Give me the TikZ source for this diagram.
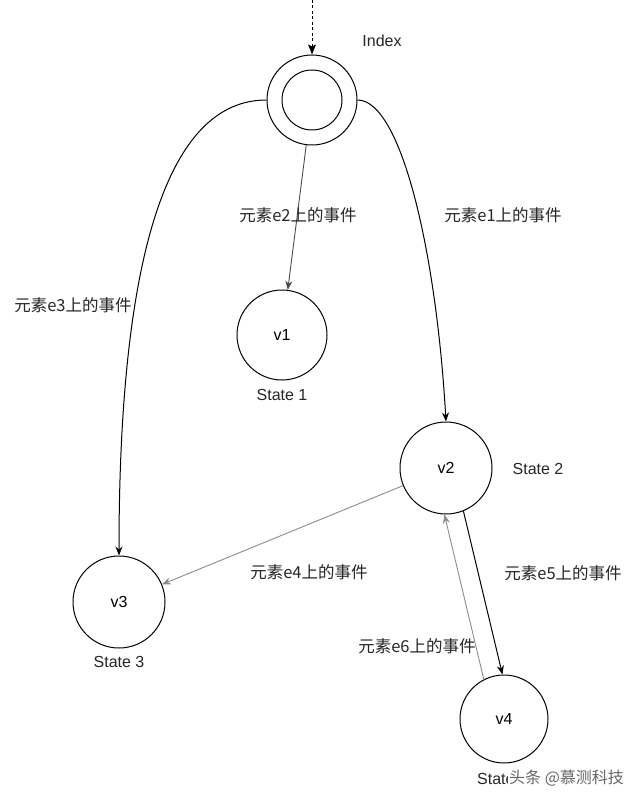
\documentclass[tikz,border=0pt]{standalone}
\usepackage{fontspec}
\setmainfont{Liberation Sans}
\newfontfamily\cjk{Noto Sans CJK SC}
\usetikzlibrary{arrows.meta}
\begin{document}
\begin{tikzpicture}[x=1pt,y=-1pt,
  st/.style={draw=black,line width=1pt,circle,minimum size=90pt,inner sep=0pt,font=\fontsize{16}{19}\selectfont},
  lbl/.style={font=\fontsize{16}{19}\selectfont,text=black!85,inner sep=0pt},
  ev/.style={font=\cjk\fontsize{16.5}{19}\selectfont,text=black!85,inner sep=0pt},
  tip/.style={-{Stealth[length=9pt,width=7pt]}},
  dk/.style={tip,draw=black,line width=1pt},
  md/.style={tip,draw=black!70,line width=0.9pt},
  lt/.style={tip,draw=black!45,line width=0.9pt}]
\useasboundingbox[fill=white] (0,0) rectangle (640,799);
% states
\node[st,minimum size=90pt] (idx) at (312,100) {};
\node[draw=black,line width=1pt,circle,minimum size=60pt,inner sep=0pt] (idxin) at (312,100) {};
\node[st] (v1) at (282,335) {v1};
\node[st,minimum size=92pt] (v2) at (446,468) {v2};
\node[st,minimum size=92pt] (v3) at (119,602) {v3};
\node[st,minimum size=88pt] (v4) at (504,719) {v4};
\coordinate (start) at (312,0);
% state labels
\node[lbl] (lidx) at (382,41) {Index};
\node[lbl] (l1) at (282,395) {State 1};
\node[lbl] (l2) at (538,469) {State 2};
\node[lbl] (l3) at (119,662) {State 3};
\node[lbl,anchor=west] (l4) at (477,779) {State 4};
% edges
\draw[black,line width=1pt,dash pattern=on 3pt off 2.5pt] (start) -- ([yshift=8pt]idx.north);
\fill[black] (idx.north) -- ++(-4,-10) -- ++(4,2) -- ++(4,-2) -- cycle;
\draw[md] (idx) -- (v1);
\draw[dk] (idx.east) .. controls +(43,0) and +(-10,-173) .. (v2.north);
\draw[dk] (idx.west) .. controls +(-97,0) and +(0,-306) .. (v3.north);
\draw[lt] (v2) -- (v3);
\draw[dk] (v2.-68) -- (v4.92);
\draw[lt] (v4.117) -- (v2.-92);
% event labels
\node[ev] (e1) at (503,215) {元素e1上的事件};
\node[ev] (e2) at (298,215) {元素e2上的事件};
\node[ev] (e3) at (73,305) {元素e3上的事件};
\node[ev] (e4) at (309,572) {元素e4上的事件};
\node[ev] (e5) at (563,573) {元素e5上的事件};
\node[ev] (e6) at (417,646) {元素e6上的事件};
% watermark
\node[font=\cjk\fontsize{16}{19}\selectfont,text=black!60,fill=white,inner sep=1pt,anchor=west] (wm) at (508,778) {头条 @慕测科技};
\end{tikzpicture}
\end{document}
